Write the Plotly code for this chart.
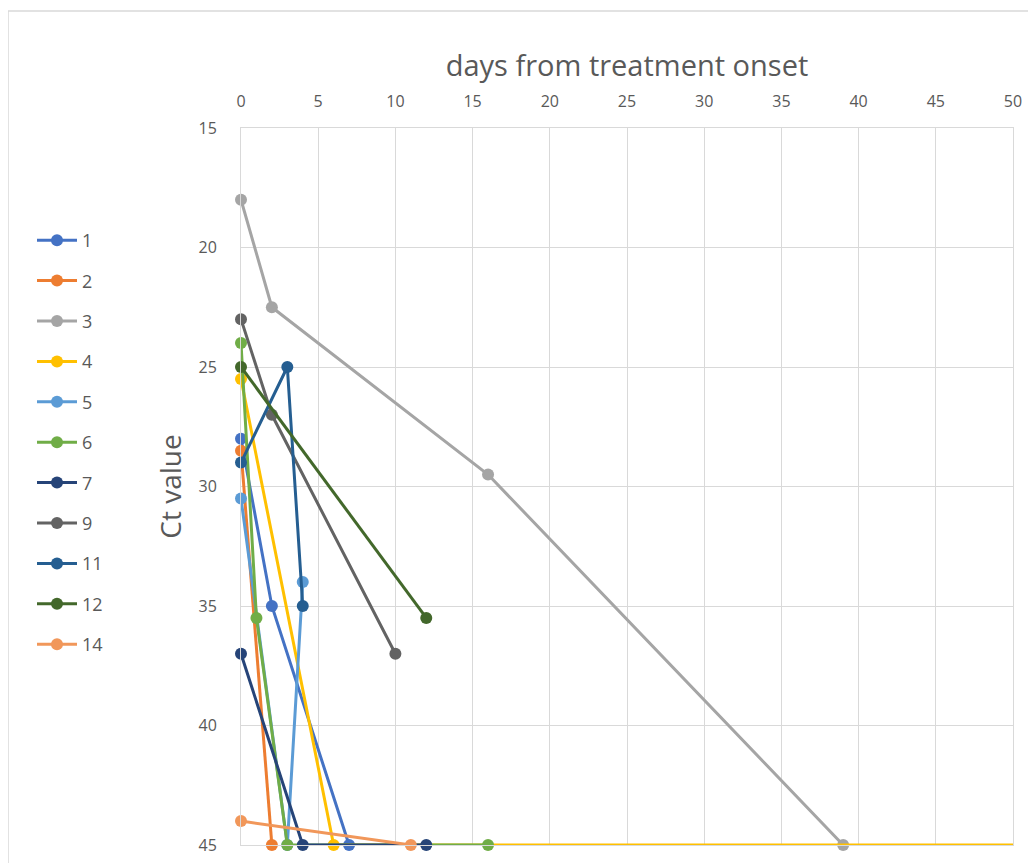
import plotly.graph_objects as go

# ---- data ----
series_names = ["1", "2", "3", "4", "5", "6", "7", "9", "11", "12", "14"]
days_1 = [0, 2, 7];            ct_1 = [28, 35, 45]
days_2 = [0, 2];               ct_2 = [28.5, 45]
days_3 = [0, 2, 16, 39];       ct_3 = [18, 22.5, 29.5, 45]
days_4 = [0, 6, 50];           ct_4 = [25.5, 45, 45]
days_5 = [0, 3, 4];            ct_5 = [30.5, 45, 34]
days_6 = [0, 1, 3, 16];        ct_6 = [24, 35.5, 45, 45]
days_7 = [0, 4, 12];           ct_7 = [37, 45, 45]
days_9 = [0, 2, 10];           ct_9 = [23, 27, 37]
days_11 = [0, 3, 4];           ct_11 = [29, 25, 35]
days_12 = [0, 12];             ct_12 = [25, 35.5]
days_14 = [0, 11];             ct_14 = [44, 45]

x_ticks = [0, 5, 10, 15, 20, 25, 30, 35, 40, 45, 50]
y_ticks = [15, 20, 25, 30, 35, 40, 45]

series_days = [days_1, days_2, days_3, days_4, days_5, days_6, days_7, days_9, days_11, days_12, days_14]
series_ct = [ct_1, ct_2, ct_3, ct_4, ct_5, ct_6, ct_7, ct_9, ct_11, ct_12, ct_14]
colors = ["#4472C4", "#ED7D31", "#A5A5A5", "#FFC000", "#5B9BD5", "#70AD47",
          "#264478", "#636363", "#255E91", "#43682B", "#F1975A"]

FONT = "Open Sans, Liberation Sans, sans-serif"
W, H = 1036, 863
OFF = 8  # page body margin
# desired plot-area pixel edges in the screenshot
L, R, T, B = 241, 1013, 128, 845
l, r, t, b = L - OFF, W - (R - OFF), T - OFF, H - (B - OFF)


def px_x(px):
    return (px - L) / (R - L)


def px_y(py):
    return 1 - (py - T) / (B - T)


fig = go.Figure()
for name, xs, ys, c in zip(series_names, series_days, series_ct, colors):
    mcolors = [c] * len(xs)
    if name == "4":
        mcolors[-1] = "rgba(0,0,0,0)"  # series runs off the right edge, no visible marker
    fig.add_trace(go.Scatter(
        x=xs, y=ys, name=name, mode="lines+markers",
        line=dict(color=c, width=3),
        marker=dict(color=mcolors, size=12, opacity=1, line=dict(width=0)),
        cliponaxis=False, legendgroup=name,
    ))

fig.update_layout(
    width=W, height=H,
    margin=dict(l=l, r=r, t=t, b=b, pad=0),
    paper_bgcolor="white", plot_bgcolor="white",
    font=dict(family=FONT, color="#595959"),
    showlegend=True,
    legend=dict(
        x=px_x(32), xanchor="left",
        y=px_y(222), yanchor="top",
        font=dict(size=18, color="#595959", family=FONT),
        tracegroupgap=14, itemwidth=40,
        bgcolor="rgba(0,0,0,0)",
    ),
    xaxis=dict(
        side="top", range=[0, 50], tickvals=x_ticks,
        showgrid=True, gridcolor="#D9D9D9", gridwidth=1,
        zeroline=False, showline=True, linecolor="#D9D9D9", mirror=True,
        ticks="outside", ticklen=14, tickcolor="rgba(0,0,0,0)",
        tickfont=dict(size=16, color="#595959"),
        title=dict(text="days from treatment onset", font=dict(size=29, color="#595959"), standoff=4),
    ),
    yaxis=dict(
        range=[45, 15], tickvals=y_ticks,
        showgrid=True, gridcolor="#D9D9D9", gridwidth=1,
        zeroline=False, showline=True, linecolor="#D9D9D9", mirror=True,
        ticks="outside", ticklen=20, tickcolor="rgba(0,0,0,0)",
        tickfont=dict(size=16, color="#595959"),
        title=dict(text="Ct value", font=dict(size=28, color="#595959"), standoff=8),
    ),
    shapes=[dict(type="rect", xref="paper", yref="paper",
                 x0=px_x(8), x1=px_x(W + 30),
                 y0=px_y(H + 30), y1=px_y(11),
                 line=dict(color="#D9D9D9", width=1.5), layer="below")],
)

fig.write_html("out.html")
